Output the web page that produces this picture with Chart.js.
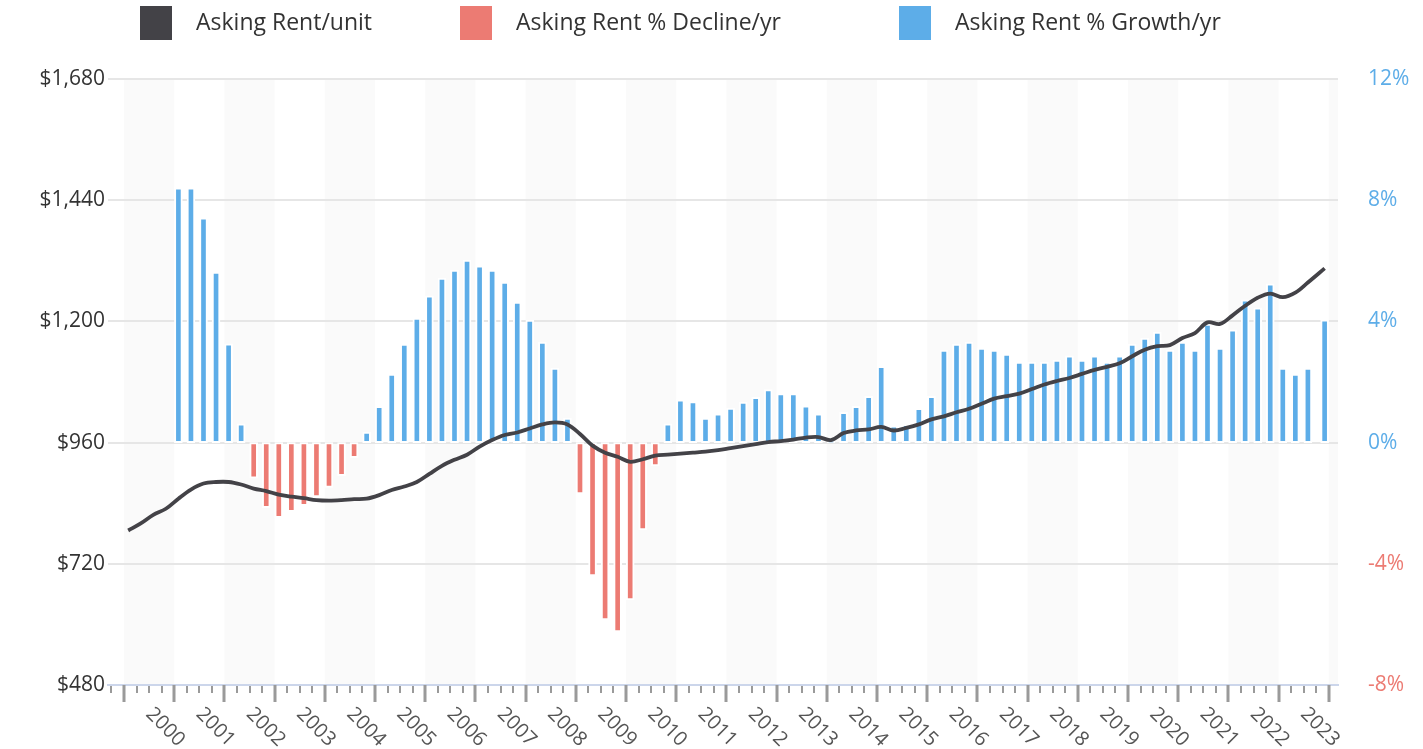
<!DOCTYPE html>
<html>
<head>
<meta charset="utf-8">
<script src="https://cdn.jsdelivr.net/npm/chart.js@4.4.0/dist/chart.umd.min.js"></script>
<style>
  html, body { margin: 0; padding: 0; background: #fff; }
  #wrap { width: 1423px; height: 749px; }
</style>
</head>
<body>
<div id="wrap"><canvas id="rentChart"></canvas></div>
<script>
// quarterly series, 2000 Q1 .. 2023 Q4
const firstYear = 2000;
const lastYear = 2023;
const quarterMonths = [2, 5, 8, 11];
const lastPeriodMonth = 12;

const yearLabels = ["2000", "2001", "2002", "2003", "2004", "2005", "2006", "2007",
    "2008", "2009", "2010", "2011", "2012", "2013", "2014", "2015",
    "2016", "2017", "2018", "2019", "2020", "2021", "2022", "2023"];

// asking rent per unit ($)
const askingRent = [
    786, 800, 817, 829,
    849, 867, 879, 882,
    882, 877, 869, 864,
    857, 853, 850, 846,
    845, 846, 848, 849,
    856, 866, 873, 882,
    898, 914, 926, 936,
    952, 965, 975, 980,
    988, 996, 1000, 996,
    977, 954, 940, 932,
    922, 927, 934, 936,
    938, 940, 942, 945,
    949, 953, 957, 961,
    963, 966, 970, 971,
    965, 979, 984, 986,
    991, 984, 989, 996,
    1006, 1012, 1020, 1027,
    1037, 1047, 1052, 1057,
    1066, 1075, 1082, 1088,
    1096, 1104, 1110, 1117,
    1131, 1144, 1151, 1153,
    1167, 1177, 1198, 1195,
    1212, 1231, 1247, 1255,
    1248, 1257, 1277, 1305
];

// year-over-year change (%), 2001 Q1 .. 2023 Q4
const rentChangePct = [
    8.41, 8.41, 7.42, 5.63,
    3.26, 0.62, -1.17, -2.15,
    -2.48, -2.28, -2.08, -1.79,
    -1.48, -1.09, -0.50, 0.35,
    1.20, 2.26, 3.25, 4.11,
    4.84, 5.43, 5.69, 6.02,
    5.83, 5.69, 5.30, 4.64,
    4.04, 3.32, 2.46, 0.81,
    -1.69, -4.40, -5.85, -6.25,
    -5.19, -2.88, -0.77, 0.62,
    1.41, 1.35, 0.81, 0.95,
    1.14, 1.34, 1.49, 1.75,
    1.62, 1.62, 1.21, 0.95,
    0.05, 1.00, 1.20, 1.53,
    2.52, 0.55, 0.60, 1.13,
    1.53, 3.05, 3.25, 3.32,
    3.12, 3.05, 2.92, 2.66,
    2.66, 2.66, 2.72, 2.86,
    2.72, 2.86, 2.66, 2.86,
    3.25, 3.45, 3.65, 3.05,
    3.32, 3.05, 3.91, 3.12,
    3.72, 4.71, 4.45, 5.24,
    2.46, 2.26, 2.46, 4.05
];

const rentTicks = [480, 720, 960, 1200, 1440, 1680];
const pctTicks = [-8, -4, 0, 4, 8, 12];

const legendNames = ["Asking Rent/unit", "Asking Rent % Decline/yr", "Asking Rent % Growth/yr"];

const DARK = "#434247";
const RED = "#EC7B73";
const BLUE = "#5DADE8";
const FONT = "'Open Sans', sans-serif";

// x value (decimal year) of each quarter
const periodX = askingRent.map((v, i) => {
    const year = firstYear + Math.floor(i / 4);
    let month = quarterMonths[i % 4];
    if (i === askingRent.length - 1) month = lastPeriodMonth;
    return year + (month - 1) / 12;
});
const offset = askingRent.length - rentChangePct.length;

const rentPoints = askingRent.map((v, i) => ({ x: periodX[i], y: v }));
const growthPoints = rentChangePct.map((v, i) => ({ x: periodX[i + offset], y: v >= 0 ? v : null }));
const declinePoints = rentChangePct.map((v, i) => ({ x: periodX[i + offset], y: v < 0 ? v : null }));

// alternate year shading, under everything
const yearBands = {
    id: "yearBands",
    beforeDraw(chart) {
        const { ctx, chartArea } = chart;
        const x = chart.scales.x;
        ctx.save();
        ctx.fillStyle = "#fafafa";
        for (let yr = firstYear; yr <= lastYear + 1; yr += 2) {
            const a = Math.max(x.getPixelForValue(yr), chartArea.left);
            const b = Math.min(x.getPixelForValue(yr + 1), chartArea.right);
            if (b > a) ctx.fillRect(a, chartArea.top, b - a, chartArea.bottom - chartArea.top);
        }
        ctx.restore();
    }
};

// quarter ticks + slanted year labels + legend
const decorations = {
    id: "decorations",
    afterDraw(chart) {
        const { ctx, chartArea } = chart;
        const x = chart.scales.x;
        ctx.save();
        ctx.fillStyle = "#9a9a9a";
        for (let q = (firstYear - 1) * 4 + 3; q <= (lastYear + 1) * 4; q++) {
            const v = q / 4;
            const px = Math.round(x.getPixelForValue(v));
            if (px < chartArea.left || px > chartArea.right) continue;
            if (q % 4 === 0) ctx.fillRect(px - 1.5, chartArea.bottom, 3, 17);
            else ctx.fillRect(px - 1, chartArea.bottom + 1, 2, 7);
        }

        ctx.fillStyle = "#555";
        ctx.font = "20px " + FONT;
        ctx.textAlign = "left";
        ctx.textBaseline = "middle";
        yearLabels.forEach(label => {
            const px = x.getPixelForValue(Number(label) + 0.5);
            ctx.save();
            ctx.translate(px, chartArea.bottom + 26);
            ctx.rotate(Math.PI / 4);
            ctx.fillText(label, 0, 0);
            ctx.restore();
        });

        // legend
        const boxX = [140, 460, 899];
        const colors = [DARK, RED, BLUE];
        ctx.font = "23px " + FONT;
        legendNames.forEach((name, i) => {
            ctx.fillStyle = colors[i];
            ctx.fillRect(boxX[i], 6, 32, 34);
            ctx.fillStyle = "#333";
            ctx.fillText(name, boxX[i] + 56, 23);
        });
        ctx.restore();
    }
};

new Chart(document.getElementById("rentChart"), {
    type: "bar",
    data: {
        datasets: [
            {
                type: "line",
                label: legendNames[0],
                data: rentPoints,
                yAxisID: "y",
                borderColor: DARK,
                backgroundColor: DARK,
                borderWidth: 3.8,
                pointRadius: 0,
                tension: 0.35,
                order: 0
            },
            {
                label: legendNames[1],
                data: declinePoints,
                yAxisID: "y1",
                backgroundColor: RED,
                borderColor: "#fff",
                borderWidth: 2,
                borderSkipped: false,
                barThickness: 8,
                grouped: false,
                order: 1
            },
            {
                label: legendNames[2],
                data: growthPoints,
                yAxisID: "y1",
                backgroundColor: BLUE,
                borderColor: "#fff",
                borderWidth: 2,
                borderSkipped: false,
                barThickness: 8,
                grouped: false,
                order: 1
            }
        ]
    },
    options: {
        responsive: true,
        maintainAspectRatio: false,
        animation: false,
        layout: { padding: { top: 79, left: 0, right: 0, bottom: 0 } },
        plugins: {
            legend: { display: false },
            tooltip: { enabled: false }
        },
        scales: {
            x: {
                type: "linear",
                offset: false,
                min: 1999.681,
                max: 2024.183,
                ticks: { display: false },
                grid: { display: false, offset: false },
                border: { color: "#ccd6eb", width: 2 },
                afterFit: s => { s.height = 64; }
            },
            y: {
                position: "left",
                min: rentTicks[0],
                max: rentTicks[rentTicks.length - 1],
                afterBuildTicks: s => { s.ticks = rentTicks.map(v => ({ value: v })); },
                ticks: {
                    padding: 3,
                    color: "#333",
                    font: { family: FONT, size: 21 },
                    callback: v => "$" + v.toLocaleString("en-US")
                },
                grid: { color: "#e6e6e6", lineWidth: 2, drawTicks: false },
                border: { display: false },
                afterFit: s => { s.width = 108; }
            },
            y1: {
                position: "right",
                min: pctTicks[0],
                max: pctTicks[pctTicks.length - 1],
                afterBuildTicks: s => { s.ticks = pctTicks.map(v => ({ value: v })); },
                ticks: {
                    padding: 30,
                    color: c => c.tick.value < 0 ? RED : BLUE,
                    font: { family: FONT, size: 21 },
                    callback: v => v + "%"
                },
                grid: { display: false, drawTicks: false },
                border: { display: false },
                afterFit: s => { s.width = 85; }
            }
        }
    },
    plugins: [yearBands, decorations]
});
</script>
</body>
</html>
